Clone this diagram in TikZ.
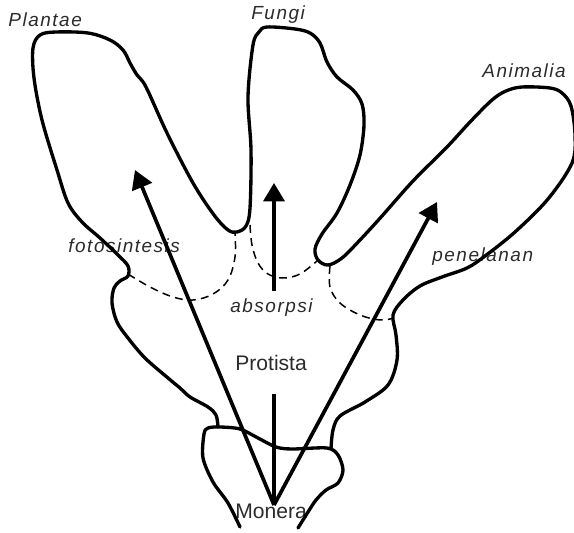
\documentclass[tikz,border=0pt]{standalone}
\usepackage{fontspec}
\setmainfont{Liberation Sans}
\newfontfamily\spacedsans[LetterSpace=8]{Liberation Sans}
\usepackage{tikz}
\usetikzlibrary{arrows.meta, positioning}
\definecolor{kText}{HTML}{2B2B2B}
\tikzset{
  kingdom/.style={font=\spacedsans\fontsize{10.8}{12}\selectfont\itshape, text=kText, inner sep=0pt, anchor=base west},
  process/.style={kingdom},
  phylum/.style={font=\fontsize{12}{14}\selectfont, text=kText, inner sep=0pt, anchor=base west},
  body/.style={line width=1.9pt, line cap=round, line join=round},
  divide/.style={dash pattern=on 4.5pt off 3pt, line width=0.85pt},
  evolve/.style={-{Triangle[length=10.5pt, width=12pt]}, line width=2.1pt},
  stem/.style={line width=2.1pt}
}

\begin{document}
\begin{tikzpicture}[x=0.02cm, y=-0.02cm]
  \useasboundingbox (0,0) rectangle (574,533);

  % labels
  \node[kingdom] (plantae) at (8,27) {Plantae};
  \node[kingdom] (fungi) at (251,20) {Fungi};
  \node[kingdom] (animalia) at (482,78) {Animalia};
  \node[process] (foto) at (68,253) {fotosintesis};
  \node[process] (absorb) at (230,312) {absorpsi};
  \node[process] (eat) at (432,262) {penelanan};
  \node[phylum] (protista) at (235,370) {Protista};
  \node[phylum] (monera) at (235,518) {Monera};

  % outline of the tree
  \draw[body] plot[smooth, tension=0.55] coordinates {
    (218,427) (216,415) (208,407) (190,397) (180,388) (168,378) (145,358)
    (128,338) (117,322) (112,303) (114,288) (120,281) (128,276) (128,266)
    (118,255) (100,238) (82,222) (68,203) (57,170) (42,120) (34,78)
    (33,48) (40,35) (56,32) (88,33) (110,40) (123,50) (130,63) (137,75)
    (146,87) (167,133) (193,183) (214,215) (228,230) (237,232) (246,226)
    (250,208) (251,150) (248,97) (253,45) (259,32) (267,27) (295,29)
    (310,33) (320,43) (327,62) (337,77) (353,90) (362,104) (364,125)
    (360,155) (350,185) (337,213) (322,234) (315,249) (318,260) (328,265)
    (342,258) (360,240) (382,216) (413,181) (447,147) (470,122) (492,100)
    (506,91) (522,87) (550,88) (562,93) (571,106) (575,135) (572,163)
    (548,199) (515,232) (485,256) (467,268) (442,277) (420,286) (403,300)
    (393,315) (396,335) (397,360) (388,385) (365,402) (340,416) (333,430)
    (331,449)};
  \draw[body] plot[smooth, tension=0.5] coordinates {
    (240,527) (228,503) (213,482) (203,458) (204,434) (208,428) (220,427)
    (240,429) (258,438) (276,447) (292,449) (327,448) (338,455) (343,470)
    (338,483) (326,490) (316,500) (308,512) (298,528)};

  % boundaries between the kingdoms
  \draw[divide] plot[smooth, tension=0.6] coordinates {
    (128,274) (150,287) (173,297) (193,300) (213,294) (228,280) (235,257) (235,232)};
  \draw[divide] plot[smooth, tension=0.6] coordinates {
    (250,225) (252,245) (258,263) (268,274) (283,278) (300,274) (317,261)};
  \draw[divide] plot[smooth, tension=0.6] coordinates {
    (330,266) (330,287) (340,303) (360,315) (380,320) (394,318)};

  % lines of descent
  \coordinate (root) at (274,505);
  \coordinate (tipP) at (135,170);
  \coordinate (tipF) at (274,183);
  \coordinate (tipA) at (437,202);
  \coordinate (baseF) at (274,291);
  \coordinate (stemtop) at (274,394);
  \draw[evolve] (root) -- (tipP);
  \draw[evolve] (root) -- (tipA);
  \draw[evolve] (baseF) -- (tipF);
  \draw[stem] (stemtop) -- (root);
\end{tikzpicture}
\end{document}
